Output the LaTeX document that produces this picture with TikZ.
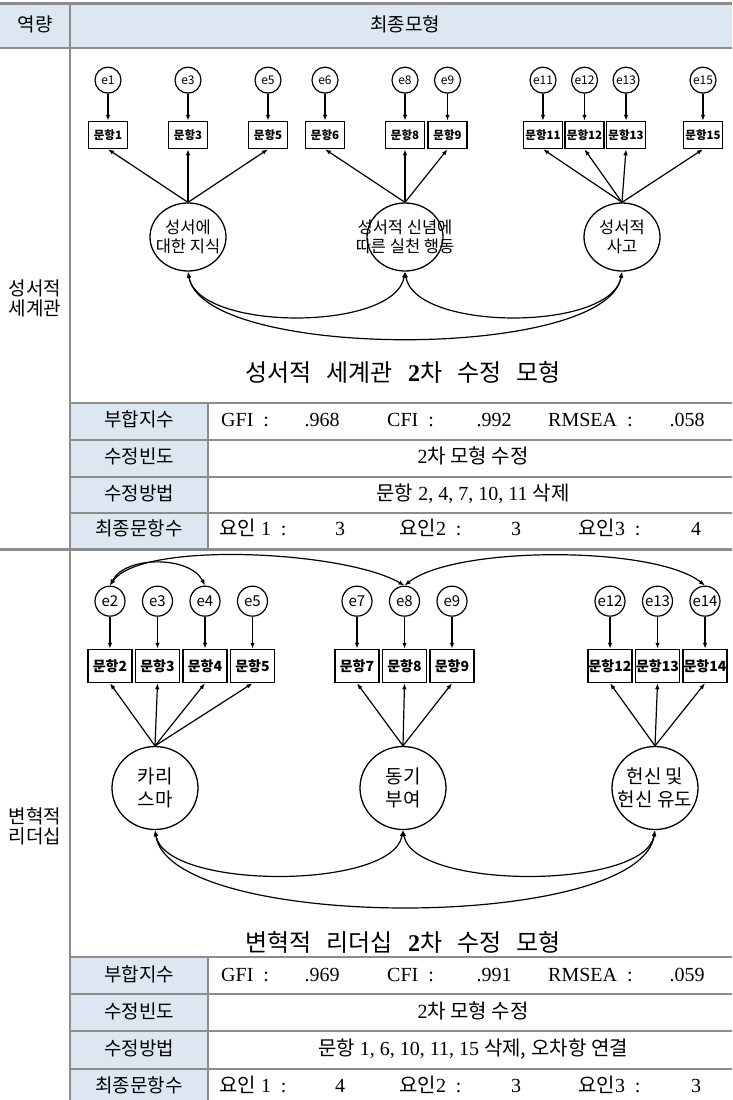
\documentclass[tikz,border=0pt]{standalone}
\usepackage{fontspec}
\setmainfont{Liberation Serif}
\newfontfamily\kr{Noto Sans CJK KR}
\usepackage{tikz}
\usetikzlibrary{positioning,shapes.geometric,arrows.meta}

\definecolor{hdblue}{RGB}{221,231,242}
\definecolor{rulegray}{RGB}{140,140,140}
\newcommand{\wsp}{\hspace{15pt}}

\begin{document}
\begin{tikzpicture}[x=1pt, y=-1pt,
      >={Latex[length=6pt,width=4.5pt]},
      arr/.style={line width=1.2pt},
      err/.style={circle, draw, line width=1.2pt, minimum size=26pt, inner sep=0pt, font=\kr\fontsize{12}{12}\selectfont},
      errL/.style={err, minimum size=30pt, font=\kr\fontsize{15}{15}\selectfont},
      itm/.style={rectangle, draw, line width=1.5pt, minimum width=39pt, minimum height=27pt, inner sep=0pt, font=\kr\bfseries\fontsize{11.5}{11.5}\selectfont},
      itmL/.style={itm, minimum width=44pt, minimum height=33pt, font=\kr\bfseries\fontsize{14}{14}\selectfont},
      fac/.style={ellipse, draw, line width=1.3pt, minimum width=76pt, minimum height=68pt, inner sep=0pt},
      facL/.style={fac, minimum width=86pt, minimum height=83pt},
      factxt/.style={align=center, inner sep=0pt, font=\kr\fontsize{16.5}{19}\selectfont},
      factxtL/.style={factxt, font=\kr\fontsize{19}{23}\selectfont},
      ttl/.style={inner sep=0pt, font=\kr\fontsize{24}{24}\selectfont},
      cell/.style={inner sep=0pt, text height=13pt, text depth=3pt, font=\fontsize{20}{20}\selectfont},
      kcell/.style={cell, font=\kr\fontsize{19}{19}\selectfont},
      tline/.style={draw=rulegray, line width=1.3pt},
      hdr/.style={fill=hdblue},
    ]
    \useasboundingbox (0,0) rectangle (732,1100);

    % Table frame
    \fill[hdr] (0,4) rectangle (732,48);
    \fill[hdr] (70,403) rectangle (208,548);
    \fill[hdr] (70,957) rectangle (208,1100);
    \draw[tline, line width=3pt] (0,3) -- (732,3);
    \draw[tline] (0,48) -- (732,48);
    \draw[tline] (70,3) -- (70,1100);
    \draw[tline] (70,403) -- (732,403);
    \draw[tline] (70,440) -- (732,440);
    \draw[tline] (70,477) -- (732,477);
    \draw[tline] (70,513) -- (732,513);
    \draw[tline] (208,403) -- (208,548);
    \draw[tline, line width=3pt] (0,549) -- (732,549);
    \draw[tline] (70,957) -- (732,957);
    \draw[tline] (70,994) -- (732,994);
    \draw[tline] (70,1031) -- (732,1031);
    \draw[tline] (70,1069) -- (732,1069);
    \draw[tline] (208,957) -- (208,1100);

    % Header
    \node[kcell] (hcomp) at (35,26) {역량};
    \node[kcell] (hmodel) at (405,26) {최종모형};
    \node[kcell, align=center, text height=, text depth=] (sgroup) at (35,298) {성서적\\[1pt]세계관};
    \node[kcell, align=center, text height=, text depth=] (tgroup) at (35,826) {변혁적\\[1pt]리더십};

    % Nodes (성서적 세계관)
    \node[itm] (sq1) at (108,135) {문항1};
    \node[itm] (sq3) at (188,135) {문항3};
    \node[itm] (sq5) at (268,135) {문항5};
    \node[itm] (sq6) at (325,135) {문항6};
    \node[itm] (sq8) at (405,135) {문항8};
    \node[itm] (sq9) [right=2pt of sq8] {문항9};
    \node[itm] (sq11) at (543,135) {문항11};
    \node[itm] (sq12) [right=1pt of sq11] {문항12};
    \node[itm] (sq13) [right=1pt of sq12] {문항13};
    \node[itm] (sq15) at (703,135) {문항15};

    \node[err] (se1) [above=27pt of sq1] {e1};
    \node[err] (se3) [above=27pt of sq3] {e3};
    \node[err] (se5) [above=27pt of sq5] {e5};
    \node[err] (se6) [above=27pt of sq6] {e6};
    \node[err] (se8) [above=27pt of sq8] {e8};
    \node[err] (se9) [above=27pt of sq9] {e9};
    \node[err] (se11) [above=27pt of sq11] {e11};
    \node[err] (se12) [above=27pt of sq12] {e12};
    \node[err] (se13) [above=27pt of sq13] {e13};
    \node[err] (se15) [above=27pt of sq15] {e15};

    \node[fac] (sf1) at (188,237) {};
    \node[fac] (sf2) at (405,237) {};
    \node[fac] (sf3) at (622,237) {};
    \node[factxt] (sf1txt) at (sf1) {성서에\\대한 지식};
    \node[factxt] (sf2txt) at (sf2) {성서적 신념에\\따른 실천 행동};
    \node[factxt] (sf3txt) at (sf3) {성서적\\사고};

    % Arrows (성서적 세계관)
    \draw[->, arr] (se1) -- (sq1);
    \draw[->, arr] (se3) -- (sq3);
    \draw[->, arr] (se5) -- (sq5);
    \draw[->, arr] (se6) -- (sq6);
    \draw[->, arr] (se8) -- (sq8);
    \draw[->, arr] (se9) -- (sq9);
    \draw[->, arr] (se11) -- (sq11);
    \draw[->, arr] (se12) -- (sq12);
    \draw[->, arr] (se13) -- (sq13);
    \draw[->, arr] (se15) -- (sq15);

    \draw[->, arr] (sf1.north) -- (sq1.south);
    \draw[->, arr] (sf1.north) -- (sq3.south);
    \draw[->, arr] (sf1.north) -- (sq5.south);
    \draw[->, arr] (sf2.north) -- (sq6.south);
    \draw[->, arr] (sf2.north) -- (sq8.south);
    \draw[->, arr] (sf2.north) -- (sq9.south);
    \draw[->, arr] (sf3.north) -- (sq11.south);
    \draw[->, arr] (sf3.north) -- (sq12.south);
    \draw[->, arr] (sf3.north) -- (sq13.south);
    \draw[->, arr] (sf3.north) -- (sq15.south);

    \draw[<->, arr] (sf1.south) .. controls +(10,60) and +(-10,60) .. (sf2.south);
    \draw[<->, arr] (sf2.south) .. controls +(10,60) and +(-10,60) .. (sf3.south);
    \draw[<->, arr] (sf1.south) .. controls +(15,89) and +(-15,89) .. (sf3.south);

    \node[ttl] (stitle) at (403,372) {성서적\wsp 세계관\wsp{\rmfamily\bfseries 2}차\wsp 수정\wsp 모형};

    % Fit rows (성서적 세계관)
    \node[kcell] (sfitl) at (139,421.5) {부합지수};
    \node[cell, anchor=west] (sgfi) at (221,421.5) {GFI\enspace:};
    \node[cell] (sgfiv) at (322,421.5) {.968};
    \node[cell, anchor=west] (scfi) at (387,421.5) {CFI\enspace:};
    \node[cell] (scfiv) at (494,421.5) {.992};
    \node[cell, anchor=west] (srmsea) at (548,421.5) {RMSEA\enspace:};
    \node[cell] (srmseav) at (687,421.5) {.058};
    \node[kcell] (sfreql) at (139,458.5) {수정빈도};
    \node[cell] (sfreq) at (473,458.5) {2{\kr 차 모형 수정}};
    \node[kcell] (smethl) at (139,495) {수정방법};
    \node[cell] (smeth) at (473,495) {{\kr 문항} 2, 4, 7, 10, 11 {\kr 삭제}};
    \node[kcell] (snuml) at (139,530.5) {최종문항수};
    \node[cell, anchor=west] (sfa1) at (219,530.5) {{\kr 요인} 1\enspace:};
    \node[cell] (sfa1v) at (340,530.5) {3};
    \node[cell, anchor=west] (sfa2) at (399,530.5) {{\kr 요인}2\enspace:};
    \node[cell] (sfa2v) at (516,530.5) {3};
    \node[cell, anchor=west] (sfa3) at (578,530.5) {{\kr 요인}3\enspace:};
    \node[cell] (sfa3v) at (696,530.5) {4};

    % Nodes (변혁적 리더십)
    \node[itmL] (tq2) at (110,666) {문항2};
    \node[itmL] (tq3) [right=2pt of tq2] {문항3};
    \node[itmL] (tq4) [right=2pt of tq3] {문항4};
    \node[itmL] (tq5) [right=2pt of tq4] {문항5};
    \node[itmL] (tq7) at (357,666) {문항7};
    \node[itmL] (tq8) [right=2pt of tq7] {문항8};
    \node[itmL] (tq9) [right=2pt of tq8] {문항9};
    \node[itmL] (tq12) at (610,666) {문항12};
    \node[itmL] (tq13) [right=2pt of tq12] {문항13};
    \node[itmL] (tq14) [right=2pt of tq13] {문항14};

    \node[errL] (te2) [above=32pt of tq2] {e2};
    \node[errL] (te3) [above=32pt of tq3] {e3};
    \node[errL] (te4) [above=32pt of tq4] {e4};
    \node[errL] (te5) [above=32pt of tq5] {e5};
    \node[errL] (te7) [above=32pt of tq7] {e7};
    \node[errL] (te8) [above=32pt of tq8] {e8};
    \node[errL] (te9) [above=32pt of tq9] {e9};
    \node[errL] (te12) [above=32pt of tq12] {e12};
    \node[errL] (te13) [above=32pt of tq13] {e13};
    \node[errL] (te14) [above=32pt of tq14] {e14};

    \node[facL] (tf1) at (155,788) {};
    \node[facL] (tf2) at (403,788) {};
    \node[facL] (tf3) at (655,788) {};
    \node[factxtL] (tf1txt) at (tf1) {카리\\스마};
    \node[factxtL] (tf2txt) at (tf2) {동기\\부여};
    \node[factxtL] (tf3txt) at (tf3) {헌신 및\\헌신 유도};

    % Arrows (변혁적 리더십)
    \draw[->, arr] (te2) -- (tq2);
    \draw[->, arr] (te3) -- (tq3);
    \draw[->, arr] (te4) -- (tq4);
    \draw[->, arr] (te5) -- (tq5);
    \draw[->, arr] (te7) -- (tq7);
    \draw[->, arr] (te8) -- (tq8);
    \draw[->, arr] (te9) -- (tq9);
    \draw[->, arr] (te12) -- (tq12);
    \draw[->, arr] (te13) -- (tq13);
    \draw[->, arr] (te14) -- (tq14);

    \draw[->, arr] (tf1.north) -- (tq2.south);
    \draw[->, arr] (tf1.north) -- (tq3.south);
    \draw[->, arr] (tf1.north) -- (tq4.south);
    \draw[->, arr] (tf1.north) -- (tq5.south);
    \draw[->, arr] (tf2.north) -- (tq7.south);
    \draw[->, arr] (tf2.north) -- (tq8.south);
    \draw[->, arr] (tf2.north) -- (tq9.south);
    \draw[->, arr] (tf3.north) -- (tq12.south);
    \draw[->, arr] (tf3.north) -- (tq13.south);
    \draw[->, arr] (tf3.north) -- (tq14.south);

    % error covariances
    \draw[<->, arr] (te2.north) .. controls +(15,-30) and +(-15,-30) .. (te4.north);
    \draw[<->, arr] (te2.north) .. controls +(30,-45) and +(-60,-35) .. (te8.north);
    \draw[<->, arr] (te8.north) .. controls +(50,-40) and +(-50,-40) .. (te14.north);

    \draw[<->, arr] (tf1.south) .. controls +(10,60) and +(-10,60) .. (tf2.south);
    \draw[<->, arr] (tf2.south) .. controls +(10,60) and +(-10,60) .. (tf3.south);
    \draw[<->, arr] (tf1.south) .. controls +(15,102) and +(-15,102) .. (tf3.south);

    \node[ttl] (ttitle) at (403,942) {변혁적\wsp 리더십\wsp{\rmfamily\bfseries 2}차\wsp 수정\wsp 모형};

    % Fit rows (변혁적 리더십)
    \node[kcell] (tfitl) at (139,976) {부합지수};
    \node[cell, anchor=west] (tgfi) at (221,976) {GFI\enspace:};
    \node[cell] (tgfiv) at (322,976) {.969};
    \node[cell, anchor=west] (tcfi) at (387,976) {CFI\enspace:};
    \node[cell] (tcfiv) at (494,976) {.991};
    \node[cell, anchor=west] (trmsea) at (548,976) {RMSEA\enspace:};
    \node[cell] (trmseav) at (687,976) {.059};
    \node[kcell] (tfreql) at (139,1013) {수정빈도};
    \node[cell] (tfreq) at (473,1013) {2{\kr 차 모형 수정}};
    \node[kcell] (tmethl) at (139,1050) {수정방법};
    \node[cell] (tmeth) at (473,1050) {{\kr 문항} 1, 6, 10, 11, 15 {\kr 삭제,} {\kr 오차항 연결}};
    \node[kcell] (tnuml) at (139,1087) {최종문항수};
    \node[cell, anchor=west] (tfa1) at (219,1087) {{\kr 요인} 1\enspace:};
    \node[cell] (tfa1v) at (340,1087) {4};
    \node[cell, anchor=west] (tfa2) at (399,1087) {{\kr 요인}2\enspace:};
    \node[cell] (tfa2v) at (516,1087) {3};
    \node[cell, anchor=west] (tfa3) at (578,1087) {{\kr 요인}3\enspace:};
    \node[cell] (tfa3v) at (696,1087) {3};
  \end{tikzpicture}
\end{document}
